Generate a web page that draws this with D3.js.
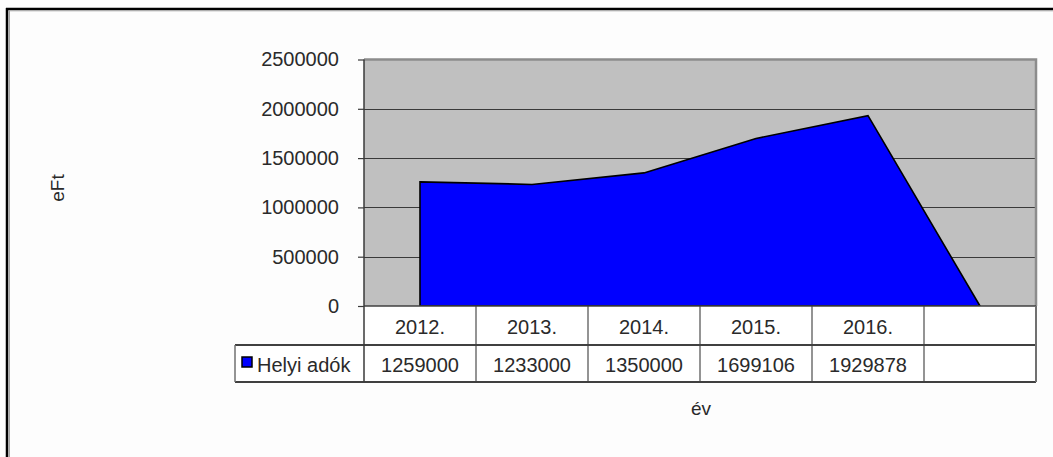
<!DOCTYPE html>
<html><head><meta charset="utf-8">
<script src="https://cdn.jsdelivr.net/npm/d3@7"></script>
<style>
html,body{margin:0;padding:0;background:#fdfdfd;}
svg{display:block;}
text{font-family:"Liberation Sans",Arial,sans-serif;fill:#2a2a2a;}
</style></head>
<body>
<svg id="c" width="1053" height="457"></svg>
<script>
const categories = ["2012.", "2013.", "2014.", "2015.", "2016.", ""];
const values = [1259000, 1233000, 1350000, 1699106, 1929878, null];
const yTicks = [0, 500000, 1000000, 1500000, 2000000, 2500000];
const seriesName = "Helyi adók";
const yTitle = "eFt";
const xTitle = "év";

const svg = d3.select("#c");
const W = 1053, H = 457;
const plot = {l: 364, r: 1036, t: 59.5, b: 306};
const rowH = [306, 345, 382];
const legendL = 235;

// outer frame
svg.append("line").attr("x1", 7).attr("x2", 7).attr("y1", 8).attr("y2", H).attr("stroke", "#000").attr("stroke-width", 2.5);
svg.append("line").attr("x1", 9.2).attr("x2", 9.2).attr("y1", 10.5).attr("y2", H).attr("stroke", "#a0a0a0").attr("stroke-width", 1.5);
svg.append("line").attr("x1", 6).attr("x2", W).attr("y1", 9).attr("y2", 9).attr("stroke", "#000").attr("stroke-width", 2.5);
svg.append("line").attr("x1", 9).attr("x2", W).attr("y1", 10.8).attr("y2", 10.8).attr("stroke", "#a8a8a8").attr("stroke-width", 1);

const x = d3.scaleBand().domain(d3.range(categories.length)).range([plot.l, plot.r]).padding(0);
const y = d3.scaleLinear().domain([0, 2500000]).range([plot.b, plot.t]);

// plot background
svg.append("rect").attr("x", plot.l).attr("y", plot.t).attr("width", plot.r - plot.l).attr("height", plot.b - plot.t)
  .attr("fill", "#c0c0c0");

// gridlines
svg.append("g").selectAll("line").data(yTicks.filter(v => v > 0 && v < 2500000)).join("line")
  .attr("x1", plot.l).attr("x2", plot.r).attr("y1", d => Math.round(y(d)) + 0.5).attr("y2", d => Math.round(y(d)) + 0.5)
  .attr("stroke", "#3a3a3a").attr("stroke-width", 1);

// plot border top/right
svg.append("path").attr("d", `M${plot.l},${plot.t} H${plot.r} V${plot.b}`).attr("fill", "none").attr("stroke", "#8c8c8c").attr("stroke-width", 2.5);

// area
const area = d3.area()
  .x((d, i) => x(i) + x.bandwidth() / 2)
  .y0(y(0))
  .y1(d => y(d ?? 0));
svg.append("path").datum(values).attr("d", area).attr("fill", "#0000ff").attr("stroke", "#000").attr("stroke-width", 1.6).attr("stroke-linejoin", "miter");

// y axis
const yAxis = d3.axisLeft(y).tickValues(yTicks).tickSize(6).tickPadding(19).tickFormat(d3.format("d"));
const ya = svg.append("g").attr("transform", `translate(${plot.l},0)`).call(yAxis);
ya.select(".domain").remove();
ya.selectAll(".tick line").attr("stroke", "#3a3a3a").attr("stroke-width", 1.2);
ya.selectAll(".tick text").attr("font-size", 20).attr("fill", "#2a2a2a").attr("font-family", "Liberation Sans, Arial, sans-serif");

// data table
const tbl = svg.append("g");
tbl.append("rect").attr("x", plot.l).attr("y", rowH[0]).attr("width", plot.r - plot.l).attr("height", rowH[2] - rowH[0]).attr("fill", "#fff");
tbl.append("rect").attr("x", legendL).attr("y", rowH[1]).attr("width", plot.l - legendL).attr("height", rowH[2] - rowH[1]).attr("fill", "#fff");
// vertical column lines
tbl.selectAll("line.v").data(d3.range(1, categories.length)).join("line").attr("class", "v")
  .attr("x1", i => x(i)).attr("x2", i => x(i)).attr("y1", rowH[0]).attr("y2", rowH[2])
  .attr("stroke", "#707070").attr("stroke-width", 1.5);
// horizontal lines
tbl.append("line").attr("x1", plot.l).attr("x2", plot.r).attr("y1", rowH[0]).attr("y2", rowH[0]).attr("stroke", "#404040").attr("stroke-width", 1.5);
tbl.append("line").attr("x1", legendL).attr("x2", plot.r).attr("y1", rowH[1]).attr("y2", rowH[1]).attr("stroke", "#404040").attr("stroke-width", 1.8);
tbl.append("line").attr("x1", legendL).attr("x2", plot.r).attr("y1", rowH[2]).attr("y2", rowH[2]).attr("stroke", "#404040").attr("stroke-width", 1.8);
tbl.append("line").attr("x1", legendL).attr("x2", legendL).attr("y1", rowH[1]).attr("y2", rowH[2]).attr("stroke", "#707070").attr("stroke-width", 1.5);
tbl.append("line").attr("x1", plot.r).attr("x2", plot.r).attr("y1", rowH[0]).attr("y2", rowH[2]).attr("stroke", "#707070").attr("stroke-width", 2);
// left axis line through plot and table
tbl.append("line").attr("x1", plot.l).attr("x2", plot.l).attr("y1", plot.t).attr("y2", rowH[2]).attr("stroke", "#3a3a3a").attr("stroke-width", 1.5);

// category labels
tbl.selectAll("text.cat").data(categories).join("text").attr("class", "cat")
  .attr("x", (d, i) => x(i) + x.bandwidth() / 2).attr("y", (rowH[0] + rowH[1]) / 2 + 1)
  .attr("text-anchor", "middle").attr("dominant-baseline", "central").attr("font-size", 20).text(d => d);
// value labels
tbl.selectAll("text.val").data(values).join("text").attr("class", "val")
  .attr("x", (d, i) => x(i) + x.bandwidth() / 2).attr("y", (rowH[1] + rowH[2]) / 2 + 1)
  .attr("text-anchor", "middle").attr("dominant-baseline", "central").attr("font-size", 20).text(d => d == null ? "" : d3.format("d")(d));
// legend key
tbl.append("rect").attr("x", 242).attr("y", 357).attr("width", 10).attr("height", 10).attr("fill", "#0000ff").attr("stroke", "#000").attr("stroke-width", 1.5);
tbl.append("text").attr("x", 257).attr("y", (rowH[1] + rowH[2]) / 2 + 1).attr("dominant-baseline", "central").attr("font-size", 20).text(seriesName);

// axis titles
svg.append("text").attr("transform", "translate(57,188) rotate(-90)").attr("text-anchor", "middle").attr("dominant-baseline", "central").attr("font-size", 19).text(yTitle);
svg.append("text").attr("x", 701).attr("y", 408).attr("text-anchor", "middle").attr("dominant-baseline", "central").attr("font-size", 19).text(xTitle);
</script>
</body></html>
